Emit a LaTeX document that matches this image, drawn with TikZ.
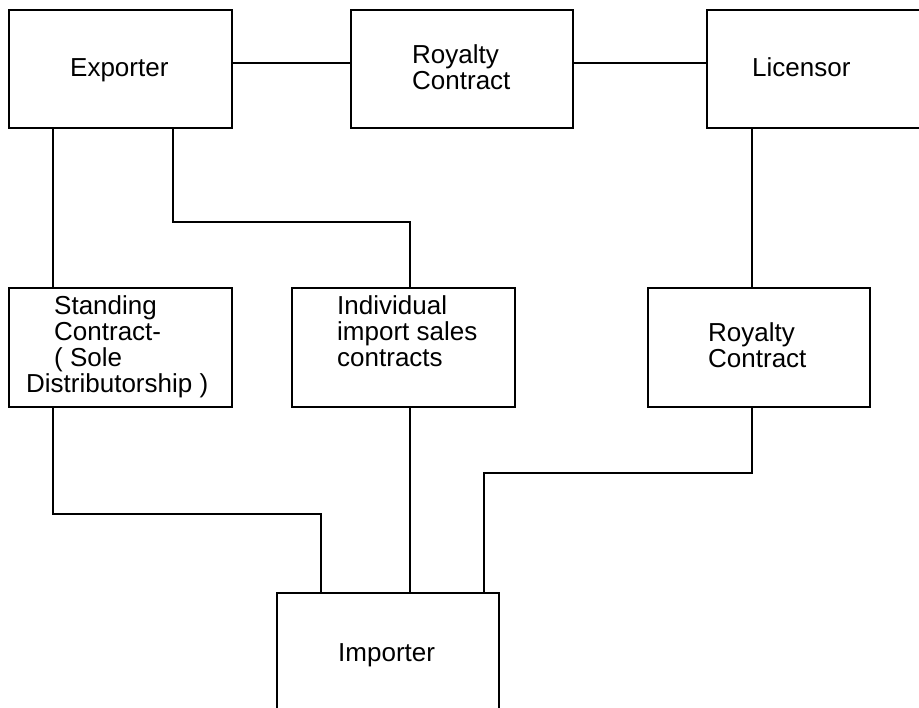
\documentclass[tikz,border=0pt]{standalone}
\usepackage{fontspec}
\setmainfont{Liberation Sans}
\begin{document}
\begin{tikzpicture}[x=1pt,y=-1pt,
  box/.style={draw, line width=2pt, inner sep=0pt, outer sep=0pt},
  wire/.style={line width=1.8pt},
  lbl/.style={anchor=base west, inner sep=0pt, font=\fontsize{26}{26}\selectfont}]
\clip (0,0) rectangle (919,708);
\fill[white] (0,0) rectangle (919,708);

% boxes
\node[box, minimum width=223pt, minimum height=118pt] (exp)  at (120.5,69) {};
\node[box, minimum width=222pt, minimum height=118pt] (roy1) at (462,69) {};
\node[box, minimum width=230pt, minimum height=118pt] (lic)  at (822,69) {};
\node[box, minimum width=223pt, minimum height=119pt] (std)  at (120.5,347.5) {};
\node[box, minimum width=223pt, minimum height=119pt] (ind)  at (403.5,347.5) {};
\node[box, minimum width=222pt, minimum height=119pt] (roy2) at (759,347.5) {};
\node[box, minimum width=222pt, minimum height=124pt] (imp)  at (388,655) {};

% helper coordinates
\coordinate (yA) at (0,63);
\coordinate (yB) at (0,222);
\coordinate (yC) at (0,514);
\coordinate (yD) at (0,473);
\coordinate (xA) at (53,0);
\coordinate (xB) at (173,0);
\coordinate (xC) at (410,0);
\coordinate (xD) at (752,0);
\coordinate (xE) at (321,0);
\coordinate (xF) at (484,0);

% connectors
\draw[wire] (exp.east |- yA) -- (roy1.west |- yA);
\draw[wire] (roy1.east |- yA) -- (lic.west |- yA);
\draw[wire] (exp.south -| xA) -- (std.north -| xA);
\draw[wire] (exp.south -| xB) -- (xB |- yB) -- (xC |- yB) -- (ind.north -| xC);
\draw[wire] (lic.south -| xD) -- (roy2.north -| xD);
\draw[wire] (std.south -| xA) -- (xA |- yC) -- (xE |- yC) -- (imp.north -| xE);
\draw[wire] (ind.south -| xC) -- (imp.north -| xC);
\draw[wire] (roy2.south -| xD) -- (xD |- yD) -- (xF |- yD) -- (imp.north -| xF);

% labels
\node[lbl] (expT) at (70,77) {Exporter};
\node[lbl] (roy1T1) at (412,64) {Royalty};
\node[lbl] (roy1T2) at (412,90) {Contract};
\node[lbl] (licT) at (752,77) {Licensor};
\node[lbl] (stdT1) at (54,315) {Standing};
\node[lbl] (stdT2) at (54,341) {Contract-};
\node[lbl] (stdT3) at (54,367) {( Sole};
\node[lbl] (stdT4) at (26,393) {Distributorship )};
\node[lbl] (indT1) at (337,315) {Individual};
\node[lbl] (indT2) at (337,341) {import sales};
\node[lbl] (indT3) at (337,367) {contracts};
\node[lbl] (roy2T1) at (708,342) {Royalty};
\node[lbl] (roy2T2) at (708,368) {Contract};
\node[lbl] (impT) at (338,661) {Importer};
\end{tikzpicture}
\end{document}
